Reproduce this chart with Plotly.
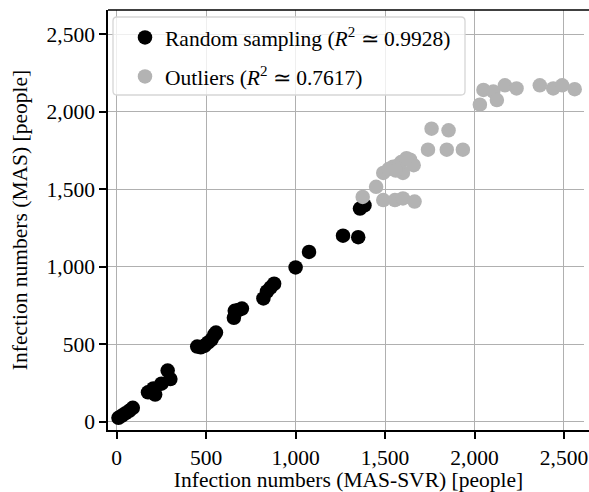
import plotly.graph_objects as go

black_x = [10, 30, 50, 70, 90, 175, 205, 215, 250, 285, 300, 450, 470, 490, 510, 530, 545, 555,
           655, 660, 680, 700, 820, 840, 860, 880, 1000, 1075, 1265, 1350, 1360, 1385]
black_y = [25, 40, 55, 70, 90, 190, 215, 175, 245, 330, 275, 485, 480, 490, 510, 530, 560, 575,
           670, 715, 720, 730, 795, 840, 865, 890, 995, 1095, 1200, 1190, 1375, 1395]

gray_x = [1375, 1450, 1490, 1545, 1600, 1590, 1640, 1660, 1520, 1580, 1620, 1560,
          1490, 1555, 1600, 1665, 1740, 1760, 1855, 1845, 1935,
          2030, 2050, 2105, 2125, 2170, 2235, 2365, 2440, 2490, 2560]
gray_y = [1450, 1515, 1605, 1645, 1605, 1675, 1690, 1655, 1630, 1660, 1700, 1620,
          1430, 1430, 1440, 1420, 1755, 1890, 1880, 1755, 1755,
          2045, 2140, 2130, 2075, 2170, 2150, 2170, 2150, 2170, 2145]

ticks = [0, 500, 1000, 1500, 2000, 2500]
tick_labels = ["0", "500", "1,000", "1,500", "2,000", "2,500"]

label_black = "Random sampling (<i>R</i><sup>2</sup> \u2243 0.9928)"
label_gray = "Outliers (<i>R</i><sup>2</sup> \u2243 0.7617)"

FONT = "Liberation Serif, Times New Roman, serif"
FS = 21.5

W, H = 589, 492
ML, MR, MT, MB = 108, 0, 10, 62
PW, PH = W - ML - MR, H - MT - MB


def px(xp):
    return (xp - ML) / PW


def py(yp):
    return (H - MB - yp) / PH


fig = go.Figure()
fig.add_trace(go.Scatter(x=black_x, y=black_y, mode="markers", name=label_black,
                         legendgroup="a",
                         marker=dict(color="#000000", size=14.5)))
fig.add_trace(go.Scatter(x=gray_x, y=gray_y, mode="markers", name=label_gray,
                         legendgroup="b",
                         marker=dict(color="#b3b3b3", size=14.5)))

axis_common = dict(
    tickvals=ticks, ticktext=tick_labels,
    showgrid=True, gridcolor="#b0b0b0", gridwidth=1.3,
    zeroline=False, mirror=False,
    showline=True, linecolor="black", linewidth=1.5,
    ticks="outside", ticklen=7, tickwidth=1.5, tickcolor="black",
    tickfont=dict(family=FONT, size=FS, color="black"),
    automargin=False,
)

fig.update_layout(
    width=W, height=H,
    margin=dict(l=ML, r=MR, t=MT, b=MB),
    paper_bgcolor="white", plot_bgcolor="white",
    font=dict(family=FONT, size=FS, color="black"),
    xaxis=dict(range=[-48.6, 2640],
               title=dict(text="Infection numbers (MAS-SVR) [people]",
                          font=dict(family=FONT, size=FS), standoff=8),
               **axis_common),
    yaxis=dict(range=[-53.5, 2656],
               title=dict(text="Infection numbers (MAS) [people]",
                          font=dict(family=FONT, size=FS), standoff=13),
               **axis_common),
    legend=dict(x=px(125), y=py(17), xanchor="left", yanchor="top",
                bgcolor="rgba(0,0,0,0)", borderwidth=0,
                font=dict(family=FONT, size=FS, color="black"),
                tracegroupgap=8, traceorder="grouped"),
    showlegend=True,
)

# rounded legend frame
x0, x1, y0, y1 = px(113), px(465), py(95), py(17)
rx, ry = 4 / PW, 4 / PH
path = (f"M {x0+rx},{y1} L {x1-rx},{y1} Q {x1},{y1} {x1},{y1-ry} "
        f"L {x1},{y0+ry} Q {x1},{y0} {x1-rx},{y0} L {x0+rx},{y0} "
        f"Q {x0},{y0} {x0},{y0+ry} L {x0},{y1-ry} Q {x0},{y1} {x0+rx},{y1} Z")
fig.add_shape(type="path", xref="paper", yref="paper", path=path,
              fillcolor="rgba(255,255,255,0.8)", line=dict(color="#d6d6d6", width=1.3),
              layer="above")
# mask the right edge (axes continue beyond the crop in the reference)
fig.add_shape(type="rect", xref="paper", yref="paper", x0=px(584), x1=px(592),
              y0=py(428), y1=py(12), fillcolor="white", line=dict(width=0), layer="above")
# top spine
fig.add_shape(type="line", xref="paper", yref="paper", x0=0, x1=px(592), y0=1, y1=1,
              line=dict(color="black", width=1.5))

fig.write_html("out.html", config={"displayModeBar": False},
               post_script="document.body.style.margin='0';")
